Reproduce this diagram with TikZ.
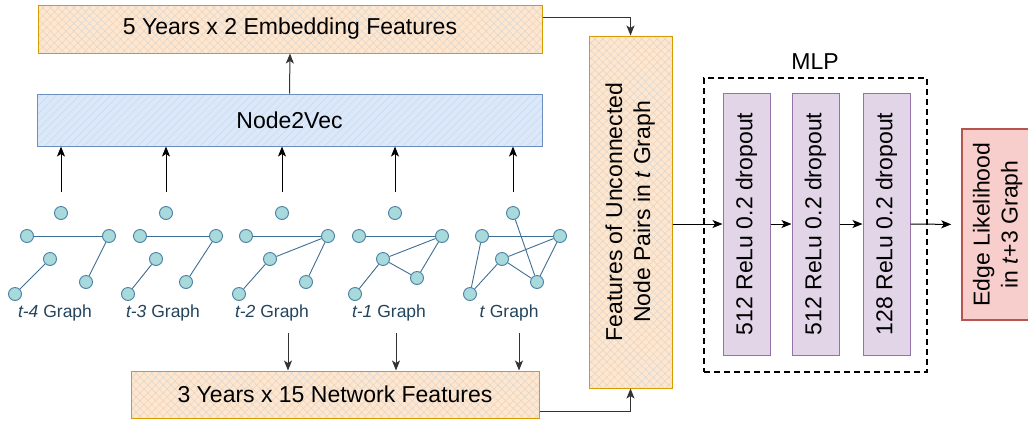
\documentclass[tikz,border=0pt]{standalone}
\usepackage{fontspec}
\setmainfont{Liberation Sans}
\usetikzlibrary{arrows.meta,patterns.meta}
\definecolor{orgfill}{HTML}{FFE6CC}
\definecolor{orgdraw}{HTML}{D79B00}
\definecolor{bluefill}{HTML}{DAE8FC}
\definecolor{bluedraw}{HTML}{6C8EBF}
\definecolor{purfill}{HTML}{E1D5E7}
\definecolor{purdraw}{HTML}{9673A6}
\definecolor{redfill}{HTML}{F8CECC}
\definecolor{reddraw}{HTML}{B85450}
\definecolor{hatchc}{HTML}{DCD6D0}
\definecolor{hatchb}{HTML}{D0D8E2}
\definecolor{gnfill}{HTML}{A9DADB}
\definecolor{gndraw}{HTML}{4A7FA6}
\definecolor{gedge}{HTML}{3F6E94}
\definecolor{glab}{HTML}{23445D}
\newcommand{\bigf}{\fontsize{23}{28}\selectfont}
\newcommand{\smallf}{\fontsize{17.5}{21}\selectfont}
\begin{document}
\begin{tikzpicture}[x=1pt,y=-1pt,
  box/.style={rectangle, inner sep=0pt, line width=1pt, font=\bigf, align=center},
  orangebox/.style={box, draw=orgdraw,
     preaction={fill=orgfill},
     preaction={pattern={Lines[angle=45,distance=5.5pt,line width=0.5pt]}, pattern color=hatchc},
     preaction={pattern={Lines[angle=-45,distance=5.5pt,line width=0.5pt]}, pattern color=hatchc}},
  bluebox/.style={box, draw=bluedraw,
     preaction={fill=bluefill},
     preaction={pattern={Lines[angle=45,distance=5.5pt,line width=0.5pt]}, pattern color=hatchb}},
  purbox/.style={box, draw=purdraw, fill=purfill},
  redbox/.style={box, draw=reddraw, fill=redfill, line width=1.5pt},
  gn/.style={circle, draw=gndraw, fill=gnfill, line width=0.9pt, minimum size=13pt, inner sep=0pt},
  ge/.style={draw=gedge, line width=0.9pt},
  glabel/.style={text=glab, font=\smallf, inner sep=0pt},
  arr/.style={draw=black, line width=1pt, -{Stealth[length=10pt,width=8pt,inset=2.5pt]}},
  arrg/.style={draw=black!80, line width=1pt, -{Stealth[length=10pt,width=8pt,inset=2.5pt]}}
]
\useasboundingbox (0,0) rectangle (1028,424);

% main boxes
\node[orangebox, minimum width=504pt, minimum height=48pt] (emb) at (290,29) {5 Years x 2 Embedding Features};
\node[bluebox, minimum width=505pt, minimum height=52pt] (n2v) at (289.5,120) {Node2Vec};
\node[orangebox, minimum width=408pt, minimum height=47pt] (net) at (335,394.5) {3 Years x 15 Network Features};
\node[orangebox, minimum width=83pt, minimum height=352pt] (feat) at (630.5,212)
  {\rotatebox{90}{\begin{tabular}{@{}c@{}}Features of Unconnected\\Node Pairs in \textit{t} Graph\end{tabular}}};

% MLP
\node[draw=black, dashed, dash pattern=on 6pt off 4pt, line width=1.5pt, minimum width=223pt, minimum height=294pt, inner sep=0pt] (mlp) at (815.5,225) {};
\node[font=\bigf, inner sep=0pt] (mlplab) at (815,62) {MLP};
\node[purbox, minimum width=47pt, minimum height=262pt] (l1) at (746.5,224) {\rotatebox{90}{512 ReLu 0.2 dropout}};
\node[purbox, minimum width=47pt, minimum height=262pt] (l2) at (815.5,224) {\rotatebox{90}{512 ReLu 0.2 dropout}};
\node[purbox, minimum width=47pt, minimum height=262pt] (l3) at (886.5,224) {\rotatebox{90}{128 ReLu 0.2 dropout}};
\node[redbox, minimum width=72pt, minimum height=191pt] (edge) at (998,224.5)
  {\rotatebox{90}{\begin{tabular}{@{}c@{}}Edge Likelihood\\in \textit{t}+3 Graph\end{tabular}}};

% graphs
% t-4
\node[gn] (a1) at (61,213) {}; \node[gn] (a2) at (27,236) {}; \node[gn] (a3) at (109,236) {};
\node[gn] (a4) at (50,259) {}; \node[gn] (a5) at (86,282) {}; \node[gn] (a6) at (15,294) {};
\draw[ge] (a2) -- (a3); \draw[ge] (a3) -- (a5); \draw[ge] (a4) -- (a6);
% t-3
\node[gn] (b1) at (166,213) {}; \node[gn] (b2) at (140,236) {}; \node[gn] (b3) at (216,236) {};
\node[gn] (b4) at (156,259) {}; \node[gn] (b5) at (186,282) {}; \node[gn] (b6) at (128,294) {};
\draw[ge] (b2) -- (b3); \draw[ge] (b3) -- (b5); \draw[ge] (b4) -- (b6);
% t-2
\node[gn] (c1) at (282,213) {}; \node[gn] (c2) at (246,236) {}; \node[gn] (c3) at (328,236) {};
\node[gn] (c4) at (270,259) {}; \node[gn] (c5) at (306,282) {}; \node[gn] (c6) at (239,294) {};
\draw[ge] (c2) -- (c3); \draw[ge] (c3) -- (c4); \draw[ge] (c3) -- (c5); \draw[ge] (c4) -- (c6);
% t-1
\node[gn] (d1) at (395,213) {}; \node[gn] (d2) at (359,236) {}; \node[gn] (d3) at (442,236) {};
\node[gn] (d4) at (383,259) {}; \node[gn] (d5) at (417,278) {}; \node[gn] (d6) at (355,294) {};
\draw[ge] (d2) -- (d3); \draw[ge] (d3) -- (d4); \draw[ge] (d4) -- (d5); \draw[ge] (d5) -- (d3); \draw[ge] (d4) -- (d6);
% t
\node[gn] (e1) at (513,213) {}; \node[gn] (e2) at (482,236) {}; \node[gn] (e3) at (560,236) {};
\node[gn] (e4) at (502,259) {}; \node[gn] (e5) at (537,282) {}; \node[gn] (e6) at (470,294) {};
\draw[ge] (e2) -- (e3); \draw[ge] (e3) -- (e4); \draw[ge] (e4) -- (e5); \draw[ge] (e5) -- (e3);
\draw[ge] (e4) -- (e6); \draw[ge] (e2) -- (e6); \draw[ge] (e1) -- (e5);

% graph labels
\node[glabel] (la) at (55,313) {\textit{t-4} Graph};
\node[glabel] (lb) at (163,313) {\textit{t-3} Graph};
\node[glabel] (lc) at (272,313) {\textit{t-2} Graph};
\node[glabel] (ld) at (389,313) {\textit{t-1} Graph};
\node[glabel] (le) at (509,313) {\textit{t} Graph};

% arrows graphs -> Node2Vec
\foreach \g in {a1,b1,c1,d1,e1}
  \draw[arr, shorten <=14pt] (\g) -- (\g |- n2v.south);
\draw[arrg] (n2v.north) -- (emb.south);

% arrows graphs -> network features
\coordinate (s2) at (288,333);
\coordinate (s1) at (396,333);
\coordinate (s0) at (519,333);
\foreach \s in {s2,s1,s0}
  \draw[arrg] (\s) -- (\s |- net.north);

% to features box
\draw[arrg] ([yshift=12pt]emb.east) -| (feat.north);
\draw[arrg] ([yshift=-16.5pt]net.east) -| (feat.south);

% MLP chain
\draw[arr] (feat.east |- l1.west) -- (l1.west);
\draw[arr] (l1.east) -- (l2.west);
\draw[arr] (l2.east) -- (l3.west);
\draw[arr, shorten >=10pt] (l3.east) -- (edge.west);
\end{tikzpicture}
\end{document}
